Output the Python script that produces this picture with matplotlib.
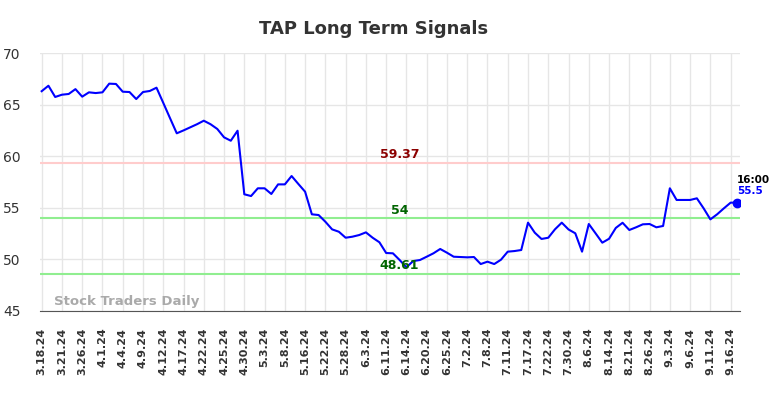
import matplotlib
matplotlib.use("Agg")
import matplotlib.pyplot as plt

# tick labels, one every third trading day
tick_labels = [
    "3.18.24", "3.21.24", "3.26.24", "4.1.24", "4.4.24", "4.9.24", "4.12.24",
    "4.17.24", "4.22.24", "4.25.24", "4.30.24", "5.3.24", "5.8.24", "5.16.24",
    "5.22.24", "5.28.24", "6.3.24", "6.11.24", "6.14.24", "6.20.24", "6.25.24",
    "7.2.24", "7.8.24", "7.11.24", "7.17.24", "7.22.24", "7.30.24", "8.6.24",
    "8.14.24", "8.21.24", "8.26.24", "9.3.24", "9.6.24", "9.11.24", "9.16.24",
]

# daily closes
prices = [
    66.30, 66.83, 65.74, 65.96, 66.03, 66.50, 65.77, 66.19, 66.12, 66.19,
    67.03, 67.00, 66.25, 66.22, 65.54, 66.22, 66.32, 66.64, 65.17, 63.69,
    62.22, 62.50, 62.80, 63.10, 63.44, 63.10, 62.64, 61.83, 61.50, 62.47,
    56.31, 56.14, 56.89, 56.89, 56.34, 57.27, 57.27, 58.08, 57.31, 56.56,
    54.37, 54.30, 53.65, 52.91, 52.68, 52.10, 52.20, 52.36, 52.62, 52.10,
    51.66, 50.62, 50.59, 49.94, 49.23, 49.84, 49.94, 50.26, 50.59, 51.01,
    50.65, 50.26, 50.23, 50.20, 50.23, 49.55, 49.78, 49.55, 49.97, 50.75,
    50.81, 50.91, 53.56, 52.59, 51.98, 52.10, 52.92, 53.56, 52.90, 52.53,
    50.75, 53.43, 52.53, 51.62, 52.00, 53.05, 53.55, 52.85, 53.11, 53.40,
    53.43, 53.11, 53.24, 56.89, 55.76, 55.76, 55.76, 55.92, 54.95, 53.88,
    54.37, 54.95, 55.50, 55.50,
]

resistance = 59.37
support_upper = 54
support_lower = 48.61
last_time = "16:00"

fig = plt.figure(figsize=(7.84, 3.98), dpi=100)
ax = fig.add_axes([0.051, 0.2186, 0.893, 0.6482])

x = list(range(len(prices)))
tick_pos = list(range(0, 3 * len(tick_labels), 3))

ax.plot(x, prices, color="#0000ff", linewidth=1.5, zorder=3)
ax.plot(x[-1], prices[-1], "o", color="#0000ff", markersize=6, zorder=4)

ax.axhline(resistance, color="#ffcccc", linewidth=1.5, zorder=2)
ax.axhline(support_upper, color="#90ee90", linewidth=1.5, zorder=2)
ax.axhline(support_lower, color="#90ee90", linewidth=1.5, zorder=2)

label_x = 53
ax.text(label_x, resistance + 0.15, f"{resistance:g}", color="#8b0000",
        fontsize=9, fontweight="bold", ha="center", va="bottom", zorder=5)
ax.text(label_x, support_upper + 0.15, f"{support_upper:g}", color="#006400",
        fontsize=9, fontweight="bold", ha="center", va="bottom", zorder=5)
ax.text(label_x, support_lower + 0.15, f"{support_lower:g}", color="#006400",
        fontsize=9, fontweight="bold", ha="center", va="bottom", zorder=5)

ax.text(x[-1] - 0.1, prices[-1] + 1.7, last_time, color="black", fontsize=7.5,
        fontweight="bold", ha="left", va="bottom")
ax.text(x[-1] - 0.1, prices[-1] + 0.6, f"{prices[-1]:g}", color="#0000ff",
        fontsize=7.5, fontweight="bold", ha="left", va="bottom")

ax.text(0.02, 0.012, "Stock Traders Daily", transform=ax.transAxes,
        color="#aaaaaa", fontsize=9.5, fontweight="bold", ha="left", va="bottom")

ax.set_xlim(-0.25, 103.4)
ax.set_ylim(45, 70)
ax.set_yticks([45, 50, 55, 60, 65, 70])
ax.set_xticks(tick_pos)
ax.set_xticklabels(tick_labels, rotation=90, fontsize=8, fontweight="bold",
                   color="#333333")
ax.tick_params(axis="y", labelsize=10, colors="#333333", length=0, pad=14)
ax.tick_params(axis="x", length=0, pad=12)

ax.grid(True, color="#e6e6e6", linewidth=1, zorder=0)
ax.set_axisbelow(True)
for side in ["left", "right", "top"]:
    ax.spines[side].set_visible(False)
ax.spines["bottom"].set_color("#555555")

fig.suptitle("TAP Long Term Signals", x=0.476, y=0.95, fontsize=13,
             fontweight="bold", color="#333333")

fig.savefig("out.png", dpi=100, facecolor="white")
